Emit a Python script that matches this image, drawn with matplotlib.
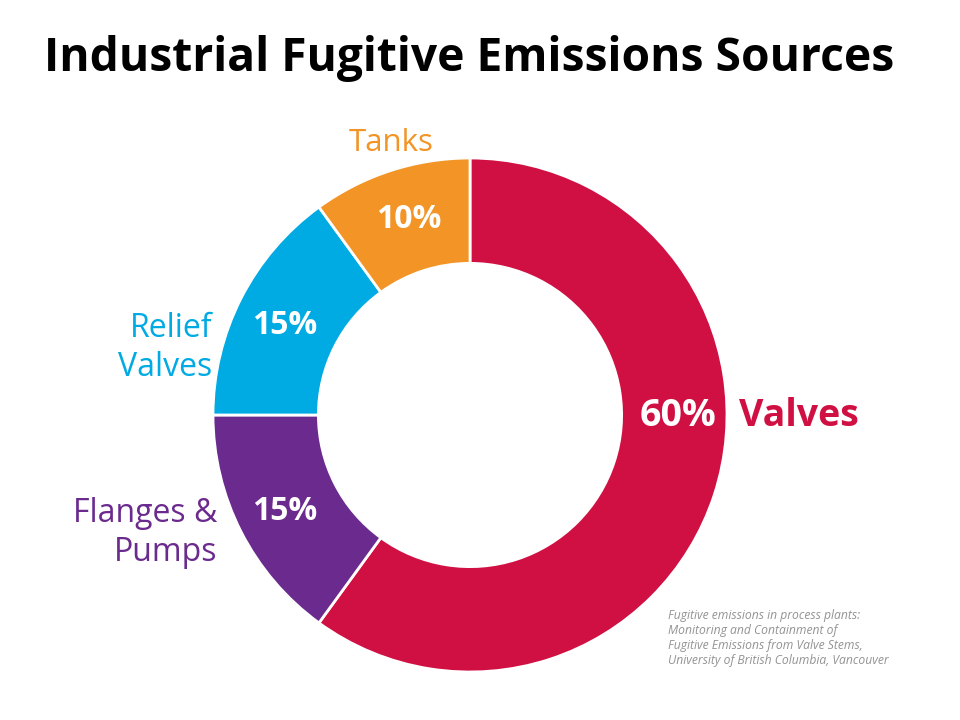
import matplotlib
matplotlib.use("Agg")
import matplotlib.pyplot as plt

# data, in the drawing order (clockwise from 12 o'clock)
sources = ["Valves", "Flanges &\nPumps", "Relief\nValves", "Tanks"]
shares = [60, 15, 15, 10]
colors = ["#D01042", "#6B2A8D", "#00AAE2", "#F39426"]

title = "Industrial Fugitive Emissions Sources"
citation = ("Fugitive emissions in process plants:\n"
            "Monitoring and Containment of\n"
            "Fugitive Emissions from Valve Stems,\n"
            "University of British Columbia, Vancouver")

plt.rcParams['font.family'] = ['Open Sans', 'DejaVu Sans']

fig = plt.figure(figsize=(9.6, 7.2), dpi=100)
ax = fig.add_axes([0, 0, 1, 1])

# work in pixel units, y pointing up
cx, cy, r = 470, 305, 257
wedges, _ = ax.pie(shares, colors=colors, startangle=90, counterclock=False,
                   center=(cx, cy), radius=r,
                   wedgeprops=dict(width=r * 0.41, edgecolor="white", linewidth=2))
ax.set_xlim(0, 960)
ax.set_ylim(0, 720)
ax.set_aspect("equal")
ax.axis("off")

# percentage labels inside the ring
pct_pos = [(678, 304), (285, 209), (285, 395), (409, 501)]
pct_size = [27, 23, 23, 23]
for s, (x, y), fs in zip(shares, pct_pos, pct_size):
    ax.text(x, y, f"{s}%", color="white", fontsize=fs, fontweight="bold",
            ha="center", va="center")

# category labels outside
ax.text(739, 304, sources[0], color=colors[0], fontsize=27, fontweight="bold",
        ha="left", va="center")
ax.text(217, 187, sources[1], color=colors[1], fontsize=23,
        ha="right", va="center", multialignment="right", linespacing=1.25)
ax.text(212, 372, sources[2], color=colors[2], fontsize=23,
        ha="right", va="center", multialignment="right", linespacing=1.25)
ax.text(391, 577, sources[3], color=colors[3], fontsize=22.5,
        ha="center", va="center")

ax.text(469, 662, title, fontsize=33.2, fontweight="bold", ha="center",
        va="center", color="black")

ax.text(668, 111, citation, fontsize=8.7, style="italic", color="#939393",
        ha="left", va="top", linespacing=1.2)

fig.savefig("out.png", dpi=100)
